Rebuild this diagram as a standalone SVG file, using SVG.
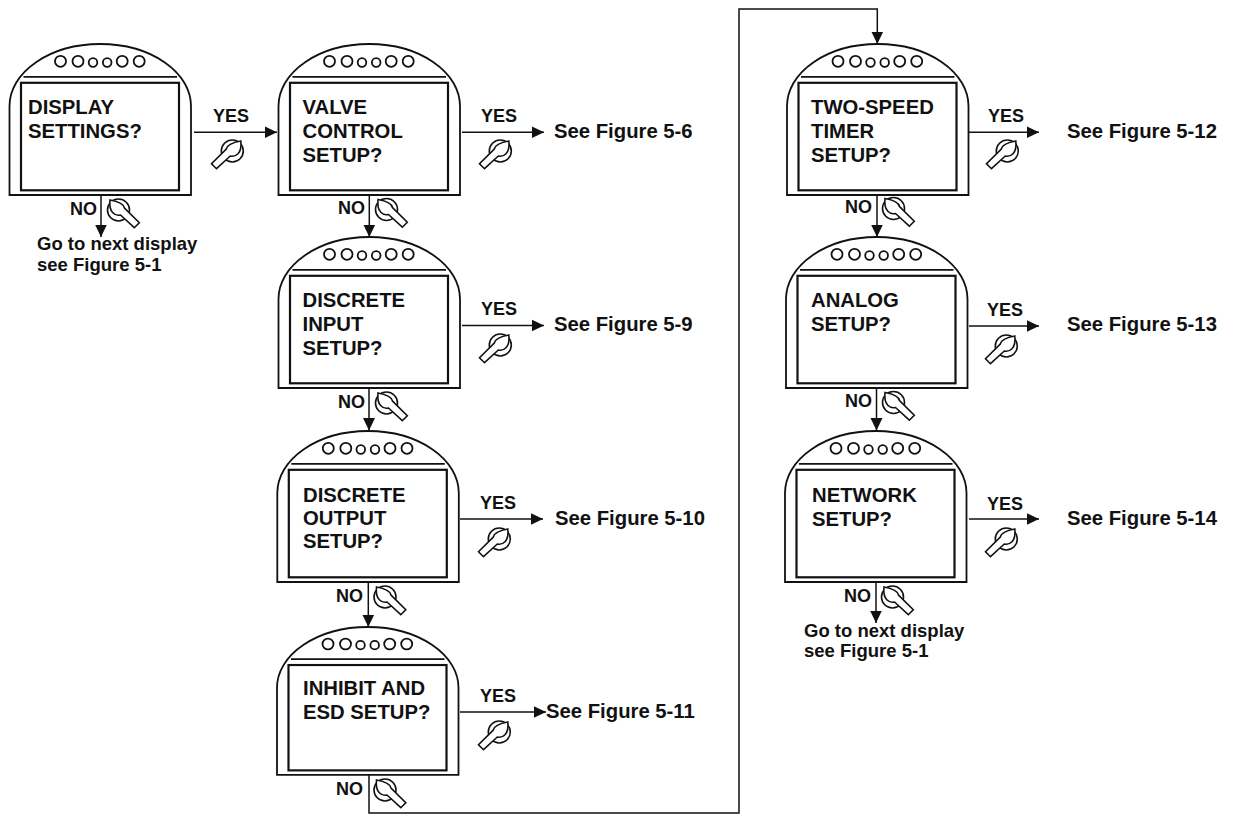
<svg xmlns="http://www.w3.org/2000/svg" width="1244" height="814" viewBox="0 0 1244 814">
<style>
text{font-family:"Liberation Sans",Arial,sans-serif;font-weight:bold;fill:#111}
.t{font-size:20.3px}
.l{font-size:18px}
.s{font-size:20.3px}
.g{font-size:18.5px}
.b{fill:none;stroke:#111;stroke-width:1.8}
.k{fill:#fff;stroke:#111;stroke-width:1.6;stroke-linejoin:miter}
.c{fill:none;stroke:#111;stroke-width:1.5}
</style>
<defs>
<marker id="a" markerUnits="userSpaceOnUse" markerWidth="14" markerHeight="14" refX="12.500" refY="6.500" orient="auto"><path d="M0 0.500L12.500 6.500L0 12.500Z" fill="#111"/></marker>
<g id="body" class="b">
<path d="M0 151V62A90.750 62 0 0 1 181.500 62V151Z"/>
<path d="M14 32.800H167.500"/>
<rect x="11.500" y="38.800" width="158" height="107.500" stroke-width="2.200"/>
<circle cx="51" cy="17.300" r="5.500"/><circle cx="68.500" cy="17.300" r="5.500"/><circle cx="83.500" cy="18.500" r="4.300"/><circle cx="97.700" cy="18.500" r="4.300"/><circle cx="112.700" cy="17.300" r="5.500"/><circle cx="129.700" cy="17.300" r="5.500"/>
</g>
<g id="no">
<circle r="11" class="k"/>
<path class="k" d="M-8.500 -10C-3 -9 5 -7 6 -2L20.800 12.700L15.800 17.700L2 5C-3 6 -10 3 -8.500 -10Z"/>
</g>
<use id="yes" href="#no" transform="scale(-1 1)"/>
</defs>
<g id="connectors">
<path class="c" marker-end="url(#a)" d="M194 132.300H277"/>
<path class="c" marker-end="url(#a)" d="M101 195V237"/>
<path class="c" marker-end="url(#a)" d="M462 132.300H544"/>
<path class="c" marker-end="url(#a)" d="M369.300 195V237"/>
<path class="c" marker-end="url(#a)" d="M462 325.500H544"/>
<path class="c" marker-end="url(#a)" d="M369 388V430.500"/>
<path class="c" marker-end="url(#a)" d="M460 519H543"/>
<path class="c" marker-end="url(#a)" d="M368.300 582V627"/>
<path class="c" marker-end="url(#a)" d="M460 712H546"/>
<path class="c" marker-end="url(#a)" d="M369 775V813H739V9H877.300V44"/>
<path class="c" marker-end="url(#a)" d="M969 132.300H1039"/>
<path class="c" marker-end="url(#a)" d="M877 195V237"/>
<path class="c" marker-end="url(#a)" d="M969 326H1039"/>
<path class="c" marker-end="url(#a)" d="M876.500 388V430.500"/>
<path class="c" marker-end="url(#a)" d="M969 519H1039"/>
<path class="c" marker-end="url(#a)" d="M876 582V623"/>
</g>
<g id="n1"><use href="#body" x="9.500" y="44"/><text class="t" x="28" y="114">DISPLAY</text><text class="t" x="28" y="138">SETTINGS?</text></g>
<g id="n2"><use href="#body" x="278.500" y="44"/><text class="t" x="302.500" y="114">VALVE</text><text class="t" x="302.500" y="138">CONTROL</text><text class="t" x="302.500" y="162">SETUP?</text></g>
<g id="n3"><use href="#body" x="278.500" y="237"/><text class="t" x="302.500" y="307">DISCRETE</text><text class="t" x="302.500" y="331">INPUT</text><text class="t" x="302.500" y="355">SETUP?</text></g>
<g id="n4"><use href="#body" x="277.300" y="431"/><text class="t" x="303" y="502">DISCRETE</text><text class="t" x="303" y="525">OUTPUT</text><text class="t" x="303" y="548">SETUP?</text></g>
<g id="n5"><use href="#body" transform="translate(277 627) scale(1 .98)"/><text class="t" x="303" y="695">INHIBIT AND</text><text class="t" x="303" y="719">ESD SETUP?</text></g>
<g id="n6"><use href="#body" x="787" y="44"/><text class="t" x="811" y="114">TWO-SPEED</text><text class="t" x="811" y="138">TIMER</text><text class="t" x="811" y="162">SETUP?</text></g>
<g id="n7"><use href="#body" x="786" y="237"/><text class="t" x="811" y="307">ANALOG</text><text class="t" x="811" y="331">SETUP?</text></g>
<g id="n8"><use href="#body" x="785" y="431"/><text class="t" x="812" y="502">NETWORK</text><text class="t" x="812" y="526">SETUP?</text></g>
<g id="labels">
<text class="l" x="213" y="122">YES</text><use href="#yes" transform="translate(232.300 151)"/>
<text class="l" x="70" y="215">NO</text><use href="#no" x="118.500" y="210"/>
<text class="g" x="37" y="250">Go to next display</text><text class="g" x="37" y="271">see Figure 5-1</text>
<text class="l" x="481" y="122">YES</text><use href="#yes" transform="translate(500.300 151)"/><text class="s" x="554" y="138">See Figure 5-6</text>
<text class="l" x="338" y="214">NO</text><use href="#no" x="386.500" y="209.500"/>
<text class="l" x="481" y="315">YES</text><use href="#yes" transform="translate(500.300 345)"/><text class="s" x="554" y="331">See Figure 5-9</text>
<text class="l" x="338" y="408">NO</text><use href="#no" x="386.500" y="403"/>
<text class="l" x="480" y="509">YES</text><use href="#yes" transform="translate(499.300 539)"/><text class="s" x="555" y="525">See Figure 5-10</text>
<text class="l" x="336" y="601.700">NO</text><use href="#no" x="385" y="597"/>
<text class="l" x="480" y="702">YES</text><use href="#yes" transform="translate(499.300 732)"/><text class="s" x="546" y="718">See Figure 5-11</text>
<text class="l" x="336" y="795">NO</text><use href="#no" x="385" y="790"/>
<text class="l" x="988" y="122">YES</text><use href="#yes" transform="translate(1007.300 151)"/><text class="s" x="1067" y="138">See Figure 5-12</text>
<text class="l" x="845" y="213">NO</text><use href="#no" x="893.500" y="208.500"/>
<text class="l" x="987" y="316">YES</text><use href="#yes" transform="translate(1006.300 346)"/><text class="s" x="1067" y="331">See Figure 5-13</text>
<text class="l" x="845" y="407">NO</text><use href="#no" x="893.500" y="402.500"/>
<text class="l" x="987" y="510">YES</text><use href="#yes" transform="translate(1006.300 539)"/><text class="s" x="1067" y="525">See Figure 5-14</text>
<text class="l" x="844" y="601.700">NO</text><use href="#no" x="892.500" y="597"/>
<text class="g" x="804" y="636.700">Go to next display</text><text class="g" x="804" y="657">see Figure 5-1</text>
</g>
</svg>
